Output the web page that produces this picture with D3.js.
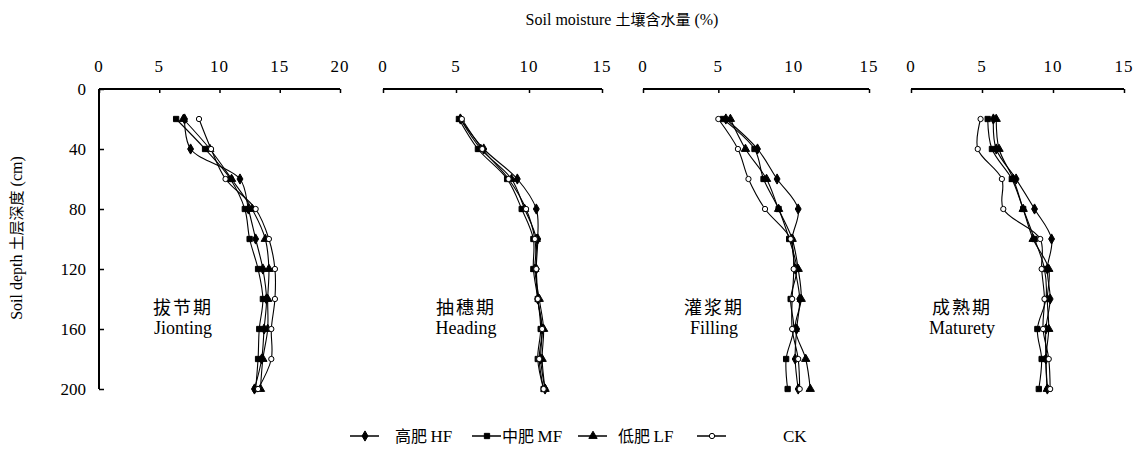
<!DOCTYPE html>
<html>
<head>
<meta charset="utf-8">
<script src="https://cdn.jsdelivr.net/npm/d3@7"></script>
<style>
  body { margin: 0; background: #fff; }
  svg { display: block; }
  text { font-family: "Liberation Serif", "Times New Roman", serif; fill: #000; }
  .cjk { font-family: "Noto Sans CJK SC", sans-serif; }
</style>
</head>
<body>
<div id="chart"></div>
<script>
// profondeurs (cm) et stades
const depths = [20, 40, 60, 80, 100, 120, 140, 160, 180, 200];
const stageCn = ["拔节期", "抽穗期", "灌浆期", "成熟期"];
const stageEn = ["Jionting", "Heading", "Filling", "Maturety"];
const xMaxes = [20, 15, 15, 15];
const depthTicks = [0, 40, 80, 120, 160, 200];

// valeurs, une ligne par stade
const hfValues = [
  [7.1, 7.6, 11.7, 12.4, 13.0, 13.6, 13.9, 13.7, 13.5, 12.9],
  [5.3, 6.9, 9.2, 10.5, 10.6, 10.5, 10.6, 10.9, 10.8, 11.1],
  [5.5, 7.6, 8.9, 10.3, 9.9, 10.1, 10.4, 10.2, 10.1, 10.3],
  [5.8, 6.0, 7.4, 8.7, 9.9, 9.6, 9.8, 9.5, 9.5, 9.6]
];
const mfValues = [
  [6.4, 8.8, 10.9, 12.1, 12.5, 13.2, 13.6, 13.3, 13.2, 13.0],
  [5.2, 6.5, 8.5, 9.5, 10.3, 10.3, 10.6, 10.8, 10.6, 11.0],
  [5.3, 7.4, 8.0, 9.0, 9.7, 10.2, 9.8, 10.0, 9.5, 9.6],
  [5.4, 5.7, 7.1, 7.9, 8.7, 9.4, 9.5, 8.9, 9.2, 9.0]
];
const lfValues = [
  [7.0, 9.2, 11.0, 12.7, 13.8, 14.1, 14.0, 14.0, 13.6, 13.4],
  [5.3, 6.7, 8.8, 9.7, 10.5, 10.4, 10.7, 11.0, 10.9, 11.1],
  [5.8, 6.8, 8.2, 9.0, 9.9, 10.3, 10.5, 10.1, 10.8, 11.1],
  [6.0, 6.2, 7.2, 7.9, 8.6, 9.7, 9.6, 9.7, 9.5, 9.6]
];
const ckValues = [
  [8.3, 9.3, 10.5, 13.0, 14.1, 14.6, 14.6, 14.3, 14.3, 13.2],
  [5.4, 6.8, 8.6, 9.8, 10.4, 10.5, 10.6, 10.9, 10.7, 11.0],
  [5.0, 6.3, 7.0, 8.1, 9.8, 10.0, 9.9, 9.9, 10.3, 10.4],
  [4.9, 4.7, 6.4, 6.5, 9.1, 9.2, 9.4, 9.3, 9.7, 9.8]
];
const seriesNames = ["高肥 HF", "中肥 MF", "低肥 LF", "CK"];

const width = 1139, height = 452;
const svg = d3.select("#chart").append("svg")
    .attr("width", width).attr("height", height);

// position horizontale de chaque panneau
const panelRanges = [[99, 340], [383, 602], [643, 869], [911, 1124]];
const labelX = [183, 466, 714, 962];

const y = d3.scaleLinear().domain([0, 200]).range([89, 389]);

const series = [
  { name: seriesNames[0], values: hfValues, symbol: d3.symbolDiamond, size: 30, fill: "#000" },
  { name: seriesNames[1], values: mfValues, symbol: d3.symbolSquare, size: 28, fill: "#000" },
  { name: seriesNames[2], values: lfValues, symbol: d3.symbolTriangle, size: 30, fill: "#000" },
  { name: seriesNames[3], values: ckValues, symbol: d3.symbolCircle, size: 22, fill: "#fff" }
];

// axe des profondeurs (un seul, à gauche)
const yAxis = svg.append("g")
    .attr("transform", `translate(${panelRanges[0][0]},0)`)
    .call(d3.axisRight(y).tickValues(depthTicks).tickSize(5).tickFormat(""));
yAxis.select(".domain").attr("stroke-width", 2).attr("d", `M0,${y(0)}V${y(200)}`);
yAxis.selectAll(".tick line").attr("stroke-width", 1.5);

svg.selectAll(".ylab")
    .data(depthTicks)
    .enter().append("text")
    .attr("x", 86)
    .attr("y", d => y(d) + 6)
    .attr("text-anchor", "end")
    .attr("font-size", 17)
    .text(d => d);

stageCn.forEach((stage, i) => {
    const x = d3.scaleLinear().domain([0, xMaxes[i]]).range(panelRanges[i]);
    const g = svg.append("g");

    const xAxis = g.append("g")
        .attr("transform", `translate(0,${y(0)})`)
        .call(d3.axisBottom(x).ticks(xMaxes[i] / 5).tickSize(4).tickFormat(""));
    xAxis.select(".domain").attr("stroke-width", 2).attr("d", `M${x.range()[0]},0H${x.range()[1]}`);
    xAxis.selectAll(".tick line").attr("stroke-width", 1.5);

    g.selectAll(".xlab")
        .data(x.ticks(xMaxes[i] / 5))
        .enter().append("text")
        .attr("x", d => x(d))
        .attr("y", 72)
        .attr("text-anchor", "middle")
        .attr("font-size", 17)
        .attr("letter-spacing", 1)
        .text(d => d);

    const line = d3.line()
        .x(d => x(d[1]))
        .y(d => y(d[0]))
        .curve(d3.curveCatmullRom);

    series.forEach(s => {
        const pts = depths.map((dp, k) => [dp, s.values[i][k]]);
        g.append("path")
            .datum(pts)
            .attr("fill", "none")
            .attr("stroke", "#000")
            .attr("stroke-width", 1.1)
            .attr("d", line);
        g.selectAll(null)
            .data(pts)
            .enter().append("path")
            .attr("transform", d => `translate(${x(d[1])},${y(d[0])})`)
            .attr("d", d3.symbol().type(s.symbol).size(s.size))
            .attr("fill", s.fill)
            .attr("stroke", "#000")
            .attr("stroke-width", 1);
    });

    g.append("text")
        .attr("class", "cjk")
        .attr("x", labelX[i]).attr("y", 314)
        .attr("text-anchor", "middle")
        .attr("font-size", 18)
        .attr("letter-spacing", 2)
        .text(stage);
    g.append("text")
        .attr("x", labelX[i]).attr("y", 334)
        .attr("text-anchor", "middle")
        .attr("font-size", 18)
        .text(stageEn[i]);
});

// titres des axes
const title = svg.append("text")
    .attr("x", 622).attr("y", 25)
    .attr("text-anchor", "middle")
    .attr("font-size", 16);
title.append("tspan").text("Soil moisture ");
title.append("tspan").attr("class", "cjk").attr("font-size", 15).text("土壤含水量");
title.append("tspan").text(" (%)");

const ytitle = svg.append("text")
    .attr("transform", "translate(22,238) rotate(-90)")
    .attr("text-anchor", "middle")
    .attr("font-size", 16);
ytitle.append("tspan").text("Soil depth ");
ytitle.append("tspan").attr("class", "cjk").attr("font-size", 15).text("土层深度");
ytitle.append("tspan").text(" (cm)");

// légende
const legendLineX = [350, 472, 578, 697];
const legendTextX = [395, 502, 618, 783];
const legend = svg.append("g").attr("transform", "translate(0,436)");
series.forEach((s, i) => {
    legend.append("line")
        .attr("x1", legendLineX[i]).attr("x2", legendLineX[i] + 29)
        .attr("y1", 0).attr("y2", 0)
        .attr("stroke", "#000").attr("stroke-width", 1.5);
    legend.append("path")
        .attr("transform", `translate(${legendLineX[i] + 15},0)`)
        .attr("d", d3.symbol().type(s.symbol).size(s.size))
        .attr("fill", s.fill)
        .attr("stroke", "#000");
    const t = legend.append("text")
        .attr("x", legendTextX[i]).attr("y", 6)
        .attr("font-size", 17);
    const parts = s.name.split(" ");
    if (parts.length > 1) {
        t.append("tspan").attr("class", "cjk").attr("font-size", 16).text(parts[0] + " ");
        t.append("tspan").text(parts[1]);
    } else {
        t.text(s.name);
    }
});
</script>
</body>
</html>
